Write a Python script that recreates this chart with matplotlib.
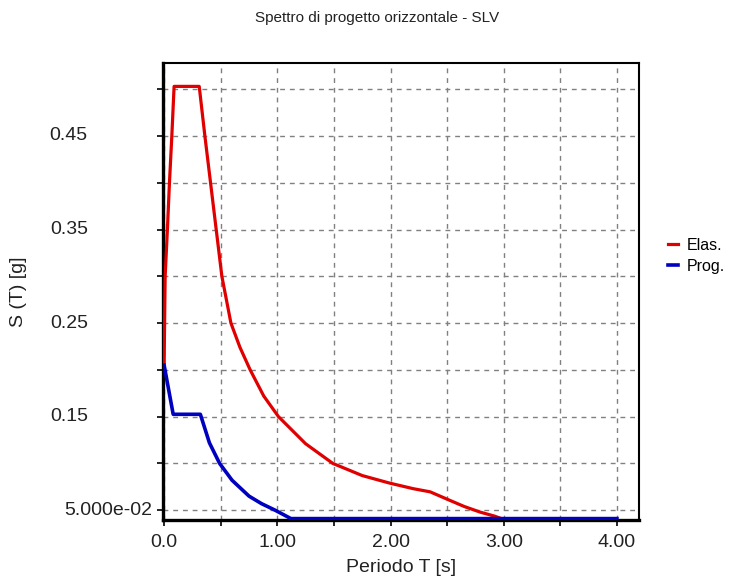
import numpy as np
import matplotlib
matplotlib.use('Agg')
import matplotlib.pyplot as plt
import matplotlib.transforms as mtransforms
from matplotlib.ticker import FixedLocator, NullFormatter

# spectrum values
t_elas = [0.0, 0.009, 0.03, 0.047, 0.068, 0.088, 0.31, 0.36, 0.41, 0.46, 0.51, 0.59, 0.67,
          0.76, 0.88, 1.01, 1.25, 1.49, 1.75, 1.99, 2.2, 2.35, 2.52, 2.65, 2.79, 2.92, 2.98]
s_elas = [0.208, 0.30, 0.353, 0.40, 0.45, 0.503, 0.503, 0.45, 0.40, 0.35, 0.30, 0.25, 0.224,
          0.20, 0.172, 0.15, 0.121, 0.10, 0.087, 0.079, 0.073, 0.0696, 0.0607, 0.054, 0.048, 0.0436, 0.041]

t_prog = [0.0, 0.08, 0.32, 0.40, 0.49, 0.60, 0.75, 0.86, 0.98, 1.12, 4.0]
s_prog = [0.205, 0.1525, 0.1525, 0.122, 0.10, 0.082, 0.065, 0.057, 0.05, 0.041, 0.041]

x_major = [0.0, 1.0, 2.0, 3.0, 4.0]
x_labels = ['0.0', '1.00', '2.00', '3.00', '4.00']
x_minor = [0.5, 1.5, 2.5, 3.5]
y_major = [0.05, 0.15, 0.25, 0.35, 0.45]
y_labels = ['5.000e-02', '0.15', '0.25', '0.35', '0.45']
y_minor = [0.10, 0.20, 0.30, 0.40, 0.50]

plt.rcParams['font.family'] = ['Liberation Sans', 'DejaVu Sans']

W, H = 741, 583
fig = plt.figure(figsize=(W / 100, H / 100), dpi=100)
ax = fig.add_axes([163 / W, 1 - 520 / H, (639 - 163) / W, (520 - 63) / H])

ax.plot(t_elas, s_elas, color='#e00000', lw=2.3, label='Elas.', zorder=3)
ax.plot(t_prog, s_prog, color='#0000c0', lw=2.6, label='Prog.', zorder=4)

ax.set_xlim(-0.01, 4.195)
ax.set_ylim(0.0395, 0.528)

ax.xaxis.set_major_locator(FixedLocator(x_major))
ax.xaxis.set_minor_locator(FixedLocator(x_minor))
ax.set_xticklabels(x_labels)
ax.yaxis.set_major_locator(FixedLocator(y_major))
ax.yaxis.set_minor_locator(FixedLocator(y_minor))
ax.yaxis.set_major_formatter(NullFormatter())

ax.tick_params(which='both', direction='out', length=4, width=1.2, color='black')
ax.tick_params(axis='x', labelsize=14, pad=6, labelcolor='#222222')

ax.grid(True, which='both', color='#808080', linestyle=(0, (3.5, 3.5)), linewidth=1.0, zorder=1)
ax.set_axisbelow(True)

for side in ['left', 'bottom']:
    ax.spines[side].set_linewidth(2.4)
for side in ['top', 'right']:
    ax.spines[side].set_linewidth(1.5)

# y tick labels placed like the original (short ones sit further left)
trans = mtransforms.blended_transform_factory(ax.transAxes, ax.transData)
for val, lab in zip(y_major, y_labels):
    xr = -0.023 if 'e' in lab else -0.158
    ax.text(xr, val, lab, transform=trans, ha='right', va='center', fontsize=14, color='#222222')

ax.set_xlabel('Periodo T [s]', fontsize=14, color='#222222', labelpad=6)
ax.set_ylabel('S (T) [g]', fontsize=14, color='#222222', va='center')
ax.yaxis.set_label_coords((18 - 163) / (639 - 163), 0.5)

fig.text(377 / W, 1 - 18 / H, 'Spettro di progetto orizzontale - SLV', ha='center', va='center',
         fontsize=11, color='#222222')

ax.legend(loc='upper left', bbox_to_anchor=(668 / W, 1 - 238 / H), bbox_transform=fig.transFigure,
          frameon=False, fontsize=11.5, handlelength=0.6, handletextpad=0.6, labelspacing=0.35,
          borderpad=0, borderaxespad=0)

fig.savefig('out.png', dpi=100)
